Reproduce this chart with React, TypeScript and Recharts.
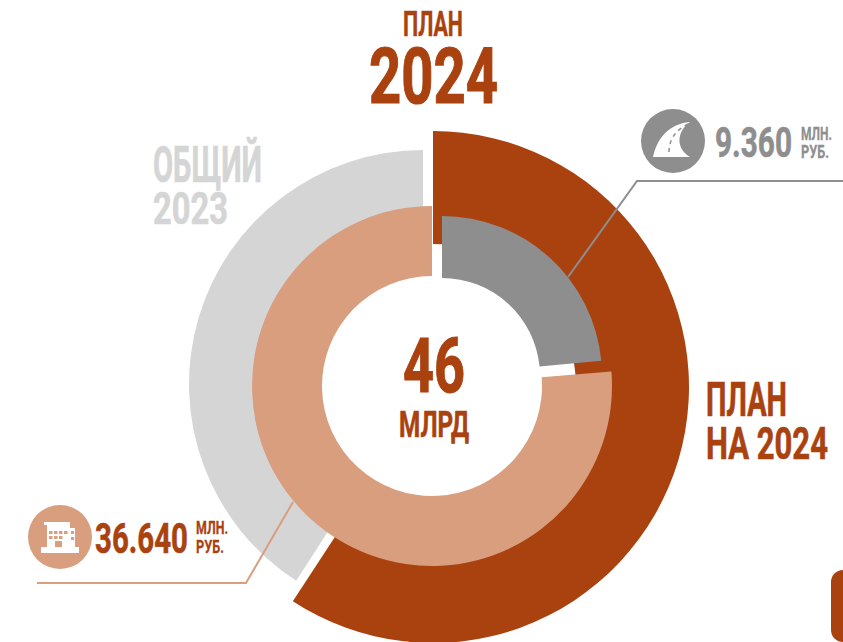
import React, { useLayoutEffect, useRef } from "react";
import { PieChart, Pie } from "recharts";

const W = 843;
const H = 642;
const RED = "#AA4210";
const PEACH = "#D89E7E";
const LIGHT = "#D6D5D6";
const GRAY = "#8E8E8E";

// Shares of a full turn (in degrees).
const planCategories = ["ПЛАН НА 2024", "остальное"];
const planValues = [213.2, 146.8];
const priorCategories = ["остальное", "ОБЩИЙ 2023"];
const priorValues = [212.8, 147.2];
const buildingCategories = ["остальное", "36.640"];
const buildingValues = [85.4, 274.6];
const roadCategories = ["9.360", "остальное"];
const roadValues = [84.5, 275.5];

const table = (names: string[], values: number[], fills: string[]) =>
  names.map((name, i) => ({ name, value: values[i], fill: fills[i] }));

const planData = table(planCategories, planValues, [RED, "none"]);
const priorData = table(priorCategories, priorValues, ["none", LIGHT]);
const buildingData = table(buildingCategories, buildingValues, ["none", PEACH]);
const roadData = table(roadCategories, roadValues, [GRAY, "none"]);

const CAP = 0.729;
function T({ x, y, w, cap, fill, children }: { x: number; y: number; w: number; cap: number; fill: string; children: string }) {
  const ref = useRef<SVGTextElement>(null);
  useLayoutEffect(() => {
    const el = ref.current;
    if (!el) return;
    const natural = el.getComputedTextLength();
    el.setAttribute("transform", `translate(${x} ${y}) scale(${w / natural} 1)`);
  }, [x, y, w]);
  return (
    <text
      ref={ref}
      transform={`translate(${x} ${y})`}
      fontFamily="'Liberation Sans Narrow', Roboto, sans-serif"
      fontWeight={700}
      fontSize={cap / CAP}
      fill={fill}
      stroke={fill}
      strokeWidth={cap * 0.02}
    >
      {children}
    </text>
  );
}

const pieProps = {
  dataKey: "value",
  startAngle: 90,
  endAngle: -270,
  stroke: "none",
  isAnimationActive: false,
  paddingAngle: 0,
  legendType: "none" as const,
};

export default function App() {
  return (
    <div style={{ position: "fixed", left: 0, top: 0, width: W, height: H, overflow: "hidden", background: "#fff" }}>
      <PieChart width={W} height={H} margin={{ top: 0, right: 0, bottom: 0, left: 0 }}>
        <Pie {...pieProps} data={planData} cx={433} cy={387} innerRadius={143} outerRadius={256} />
        <Pie {...pieProps} data={priorData} cx={423} cy={384} innerRadius={150} outerRadius={234} />
        <Pie {...pieProps} data={buildingData} cx={432} cy={386} innerRadius={110} outerRadius={180} />
        <Pie {...pieProps} data={roadData} cx={442} cy={376} innerRadius={98} outerRadius={160} />
      </PieChart>
      <svg width={W} height={H} style={{ position: "absolute", left: 0, top: 0 }}>
        <T x={403} y={36} w={60} cap={26} fill={RED}>ПЛАН</T>
        <T x={369} y={103} w={129} cap={57} fill={RED}>2024</T>
        <T x={153} y={182} w={109} cap={36} fill={LIGHT}>ОБЩИЙ</T>
        <T x={153} y={224} w={75} cap={33} fill={LIGHT}>2023</T>
        <T x={403} y={392} w={62} cap={55} fill={RED}>46</T>
        <T x={399} y={437} w={70} cap={27} fill={RED}>МЛРД</T>
        <T x={706} y={416} w={81} cap={35} fill={RED}>ПЛАН</T>
        <T x={706} y={459} w={122} cap={33} fill={RED}>НА 2024</T>

        <polyline points="568,277 637,181 843,181" fill="none" stroke={GRAY} strokeWidth={2} />
        <circle cx={673} cy={141} r={32} fill={GRAY} />
        <path d="M653,157 C657,139 668,124 690,122 C677,131 675,148 690,157 Z" fill="#fff" />
        <path d="M669,152 C669,139 676,130 688,124" fill="none" stroke={GRAY} strokeWidth={1.5} strokeDasharray="4 4" />
        <T x={715} y={157} w={77} cap={31} fill={GRAY}>9.360</T>
        <T x={801} y={140} w={31} cap={14} fill={GRAY}>МЛН.</T>
        <T x={801} y={158} w={28} cap={13} fill={GRAY}>РУБ.</T>

        <polyline points="293,502 246,583 37,583" fill="none" stroke={PEACH} strokeWidth={2} />
        <circle cx={60} cy={537} r={32} fill={PEACH} />
        <rect x={41} y={547} width={38} height={6} fill="#fff" />
        <rect x={47} y={524} width={23} height={23} fill="#fff" />
        <rect x={44} y={522} width={26} height={3} fill="#fff" />
        <rect x={70} y={528} width={5} height={19} fill="#fff" />
        {[0, 1, 2, 3].map((i) => (
          <rect key={i} x={49 + i * 5} y={531} width={3.5} height={3} fill={PEACH} />
        ))}
        {[0, 1, 2].map((i) => (
          <rect key={i} x={49 + i * 5} y={536} width={3.5} height={3} fill={PEACH} />
        ))}
        <rect x={71} y={531} width={3} height={3} fill={PEACH} />
        <rect x={71} y={537} width={3} height={3} fill={PEACH} />
        <rect x={55} y={541} width={7} height={6} fill={PEACH} />
        <T x={95} y={553} w={93} cap={31} fill={RED}>36.640</T>
        <T x={196} y={534} w={32} cap={14} fill={RED}>МЛН.</T>
        <T x={196} y={553} w={28} cap={13} fill={RED}>РУБ.</T>

        <rect x={831} y={570} width={30} height={72} rx={12} fill={RED} />
      </svg>
    </div>
  );
}
